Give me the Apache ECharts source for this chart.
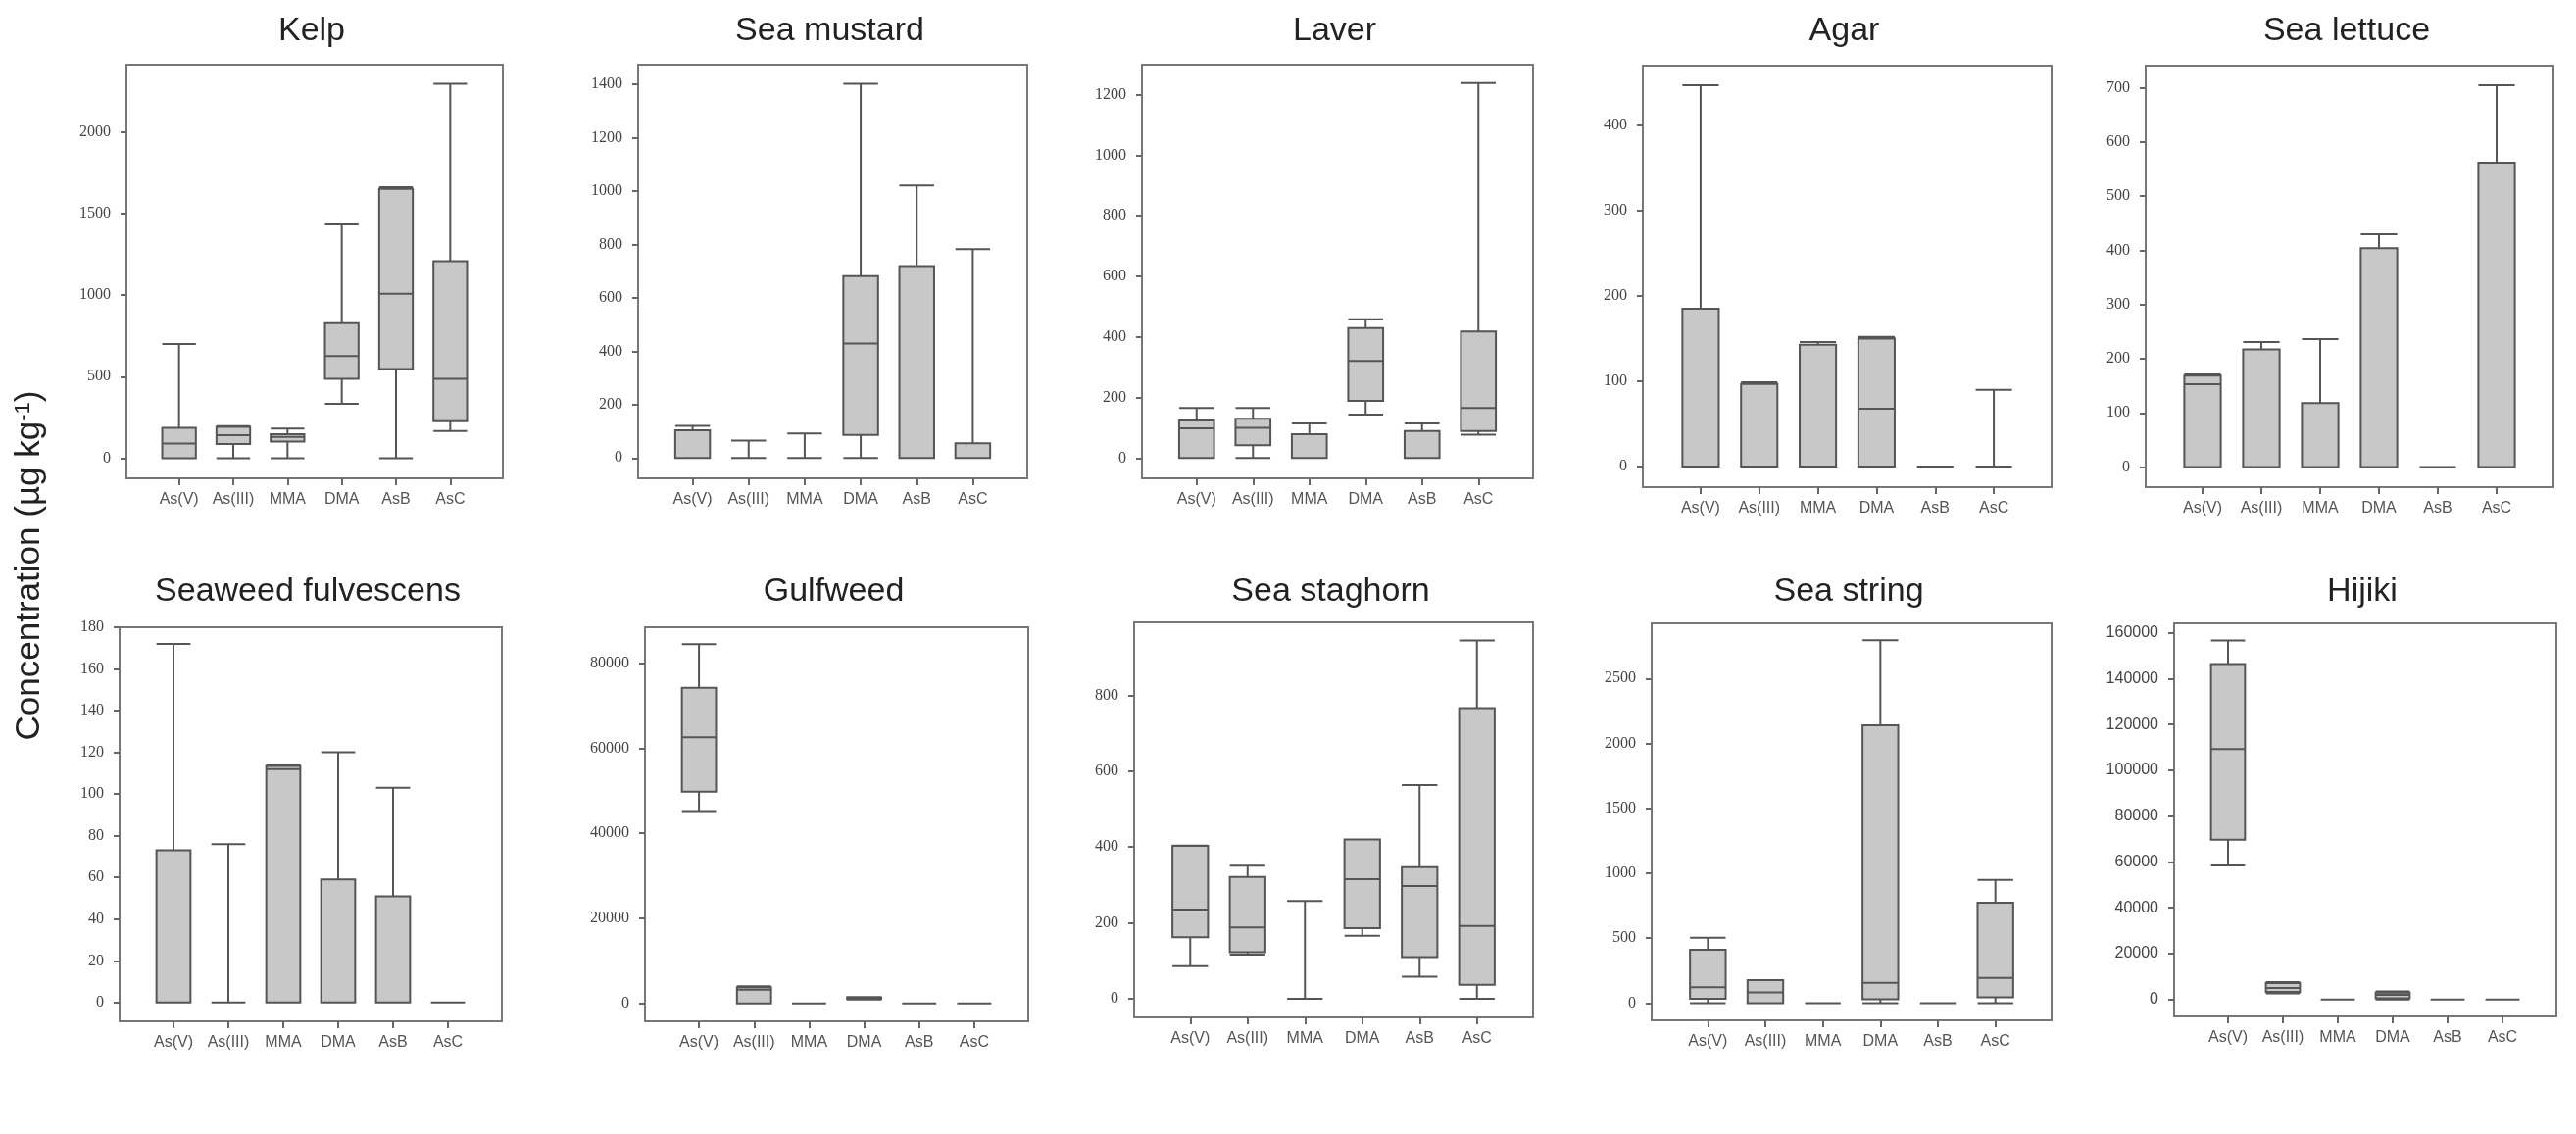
<!DOCTYPE html>
<html>
<head>
<meta charset="utf-8">
<script src="https://cdn.jsdelivr.net/npm/echarts@6/dist/echarts.min.js"></script>
<style>
html, body { margin: 0; padding: 0; background: #fff; }
#main { width: 2628px; height: 1157px; }
</style>
</head>
<body>
<div id="main"></div>
<script>
var categories = ['As(V)', 'As(III)', 'MMA', 'DMA', 'AsB', 'AsC'];
var seaweeds = ['Kelp', 'Sea mustard', 'Laver', 'Agar', 'Sea lettuce',
	'Seaweed fulvescens', 'Gulfweed', 'Sea staghorn', 'Sea string', 'Hijiki'];

// each row: [min, Q1, median, Q3, max], in the order of categories
var kelp = [[0, 0, 90, 186, 701], [0, 86, 140, 192, 196], [0, 102, 130, 146, 182],
	[333, 487, 627, 828, 1435], [0, 547, 1008, 1653, 1663], [166, 226, 487, 1208, 2297]];
var seaMustard = [[0, 0, 0, 104, 120], [0, 0, 0, 0, 65], [0, 0, 0, 0, 92],
	[0, 86, 429, 681, 1401], [0, 0, 0, 719, 1021], [0, 0, 0, 55, 782]];
var laver = [[0, 0, 98, 124, 165], [0, 42, 100, 130, 165], [0, 0, 0, 79, 114],
	[143, 189, 321, 429, 458], [0, 0, 0, 89, 114], [77, 89, 165, 418, 1238]];
var agar = [[0, 0, 0, 185, 447], [0, 0, 0, 97, 99], [0, 0, 0, 143, 146],
	[0, 0, 68, 150, 152], [0, 0, 0, 0, 0], [0, 0, 0, 0, 90]];
var seaLettuce = [[0, 0, 153, 169, 171], [0, 0, 0, 217, 231], [0, 0, 0, 118, 236],
	[0, 0, 0, 404, 430], [0, 0, 0, 0, 0], [0, 0, 0, 562, 705]];
var fulvescens = [[0, 0, 0, 73, 172], [0, 0, 0, 0, 76], [0, 0, 112, 113.5, 114],
	[0, 0, 0, 59, 120], [0, 0, 0, 51, 103], [0, 0, 0, 0, 0]];
var gulfweed = [[45200, 49800, 62600, 74200, 84500], [0, 0, 3200, 3800, 4000], [0, 0, 0, 0, 0],
	[900, 1000, 1200, 1400, 1500], [0, 0, 0, 0, 0], [0, 0, 0, 0, 0]];
var seaStaghorn = [[86, 162, 235, 403, 404], [116, 123, 188, 321, 351], [0, 0, 0, 0, 258],
	[166, 186, 315, 420, 420], [58, 110, 297, 347, 563], [0, 37, 192, 766, 944]];
var seaString = [[0, 33, 121, 410, 503], [0, 0, 83, 176, 176], [0, 0, 0, 0, 0],
	[0, 30, 156, 2140, 2795], [0, 0, 0, 0, 0], [0, 45, 194, 773, 949]];
var hijiki = [[58500, 69700, 109300, 146400, 156700], [2600, 3300, 5000, 7100, 7600], [0, 0, 0, 0, 0],
	[0, 500, 2000, 3000, 3500], [0, 0, 0, 0, 0], [0, 0, 0, 0, 0]];

var panelData = [kelp, seaMustard, laver, agar, seaLettuce,
	fulvescens, gulfweed, seaStaghorn, seaString, hijiki];

// y tick labels of every panel
var yTicks = [
	[0, 500, 1000, 1500, 2000],
	[0, 200, 400, 600, 800, 1000, 1200, 1400],
	[0, 200, 400, 600, 800, 1000, 1200],
	[0, 100, 200, 300, 400],
	[0, 100, 200, 300, 400, 500, 600, 700],
	[0, 20, 40, 60, 80, 100, 120, 140, 160, 180],
	[0, 20000, 40000, 60000, 80000],
	[0, 200, 400, 600, 800],
	[0, 500, 1000, 1500, 2000, 2500],
	[0, 20000, 40000, 60000, 80000, 100000, 120000, 140000, 160000]
];
// value range covered by each frame
var yRanges = [[-124, 2415], [-76, 1473], [-67, 1299], [-24, 470], [-37, 741],
	[-9, 180], [-4231, 88462], [-49, 992], [-133, 2925], [-7422, 164138]];

// frame boxes: left, top, right, bottom (px)
var frames = [
	[129, 66, 513, 488], [651, 66, 1048, 488], [1165, 66, 1564, 488], [1676, 67, 2093, 497], [2189, 67, 2605, 497],
	[122, 640, 512, 1042], [658, 640, 1049, 1042], [1157, 635, 1564, 1038], [1685, 636, 2093, 1041], [2218, 636, 2608, 1037]
];

var chart = echarts.init(document.getElementById('main'));

var grids = [], xAxes = [], yAxes = [], series = [], titles = [];
var n = frames.length;

frames.forEach(function(f, i) {
	var w = f[2] - f[0], h = f[3] - f[1];
	var inset = Math.round(w * 0.0685);
	var tickFont = i === 9 ? 'Liberation Sans' : 'Liberation Serif';

	// inner grid holding the boxes
	grids.push({ left : f[0] + inset, top : f[1], width : w - 2 * inset, height : h, show : false });
	xAxes.push({
		gridIndex : i,
		type : 'category',
		data : categories,
		boundaryGap : true,
		axisLine : { show : false, onZero : false },
		axisTick : { show : true, alignWithLabel : true, length : 7, lineStyle : { color : '#666', width : 2 } },
		axisLabel : { margin : 14, color : '#555', fontSize : 16, fontFamily : 'Liberation Sans', interval : 0 },
		splitLine : { show : false }
	});
	yAxes.push({
		gridIndex : i,
		type : 'value',
		min : yRanges[i][0],
		max : yRanges[i][1],
		offset : inset,
		axisLine : { show : false, onZero : false },
		axisTick : { show : true, length : 6, customValues : yTicks[i], lineStyle : { color : '#666', width : 2 } },
		axisLabel : {
			customValues : yTicks[i],
			margin : 16,
			color : '#444',
			fontSize : 16,
			fontFamily : tickFont,
			formatter : function(v) { return String(v); }
		},
		splitLine : { show : false }
	});
	series.push({
		name : seaweeds[i],
		type : 'boxplot',
		xAxisIndex : i,
		yAxisIndex : i,
		boxWidth : ['62%', '62%'],
		itemStyle : { color : '#c8c8c8', borderColor : '#555', borderWidth : 2 },
		emphasis : { disabled : true },
		data : panelData[i]
	});
	titles.push({
		text : seaweeds[i],
		left : (f[0] + f[2]) / 2 - 3,
		top : i < 5 ? 15 : 587,
		textAlign : 'center',
		padding : 0,
		textStyle : { fontFamily : 'Liberation Sans', fontSize : 34, fontWeight : 'normal', color : '#222' }
	});
});

// outer frames
frames.forEach(function(f, i) {
	grids.push({
		left : f[0], top : f[1], width : f[2] - f[0], height : f[3] - f[1],
		show : true, borderColor : '#777', borderWidth : 2, backgroundColor : 'transparent'
	});
	xAxes.push({ gridIndex : n + i, type : 'value', show : false });
	yAxes.push({ gridIndex : n + i, type : 'value', show : false });
});

var option = {
	animation : false,
	backgroundColor : '#ffffff',
	title : titles,
	grid : grids,
	xAxis : xAxes,
	yAxis : yAxes,
	series : series,
	graphic : [{
		type : 'text',
		x : 30,
		y : 577,
		rotation : Math.PI / 2,
		style : {
			text : '{a|Concentration (µg kg}{s|-1}{a|)}',
			textAlign : 'center',
			textVerticalAlign : 'middle',
			fill : '#222',
			rich : {
				a : { fontSize : 35, fontFamily : 'Liberation Sans', fill : '#222' },
				s : { fontSize : 22, fontFamily : 'Liberation Sans', fill : '#222', verticalAlign : 'top' }
			}
		}
	}]
};

chart.setOption(option);
</script>
</body>
</html>
